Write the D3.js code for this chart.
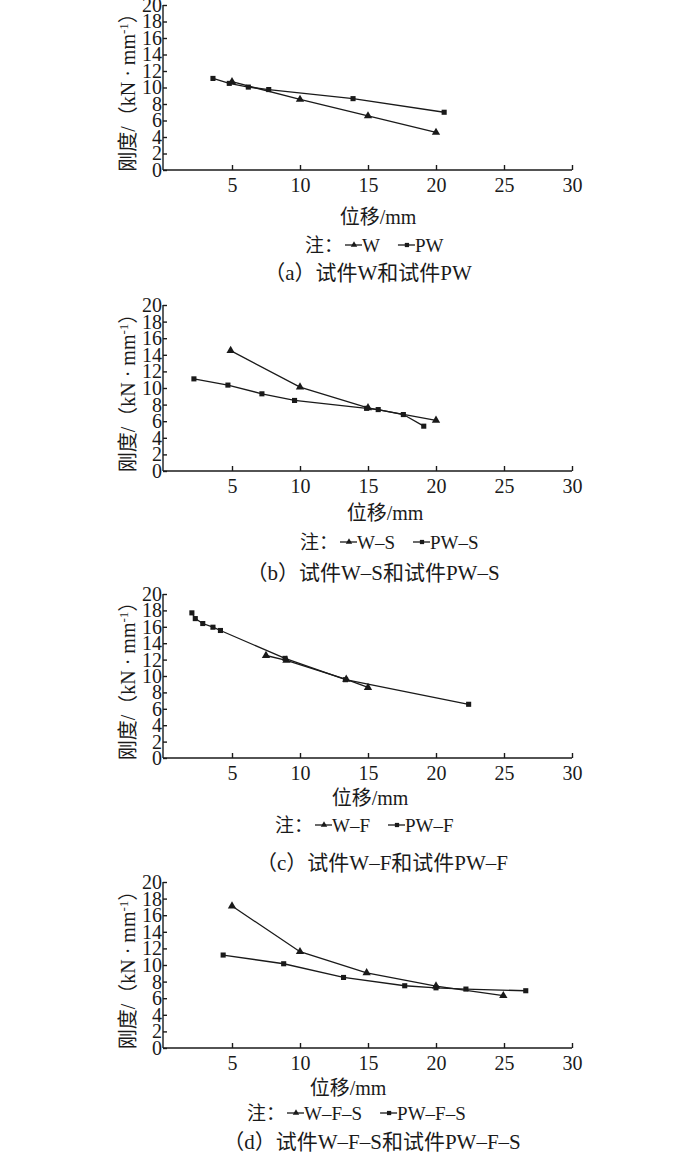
<!DOCTYPE html>
<html>
<head>
<meta charset="utf-8">
<script src="https://cdn.jsdelivr.net/npm/d3@7"></script>
<style>
  body { margin: 0; background: #fff; }
  text { fill: #1a1a1a; }
</style>
</head>
<body>
<svg id="chart" width="700" height="1153"></svg>
<script>
// displacement (mm) and stiffness (kN/mm)
let xTicks = [5, 10, 15, 20, 25, 30];
let yTicks = [0, 2, 4, 6, 8, 10, 12, 14, 16, 18, 20];

let wX = [5.0, 10.0, 15.0, 20.0];
let wY = [10.7, 8.55, 6.55, 4.55];
let pwX = [3.6, 4.8, 6.2, 7.7, 13.9, 20.6];
let pwY = [11.1, 10.5, 10.05, 9.75, 8.65, 7.0];

let wsX = [4.9, 10.0, 15.0, 20.0];
let wsY = [14.5, 10.1, 7.6, 6.1];
let pwsX = [2.2, 4.7, 7.2, 9.6, 14.9, 15.75, 17.6, 19.1];
let pwsY = [11.1, 10.35, 9.3, 8.5, 7.55, 7.4, 6.8, 5.4];

let wfX = [7.5, 9.0, 13.4, 15.0];
let wfY = [12.5, 11.9, 9.6, 8.6];
let pwfX = [2.05, 2.3, 2.85, 3.6, 4.15, 8.9, 13.35, 22.4];
let pwfY = [17.7, 17.0, 16.4, 15.95, 15.55, 12.15, 9.55, 6.55];

let wfsX = [5.0, 10.0, 14.9, 20.0, 24.95];
let wfsY = [17.1, 11.6, 9.05, 7.45, 6.3];
let pwfsX = [4.35, 8.8, 13.2, 17.7, 20.0, 22.2, 26.6];
let pwfsY = [11.2, 10.15, 8.5, 7.5, 7.25, 7.1, 6.9];

let seriesA = ["W", "PW"];
let seriesB = ["W–S", "PW–S"];
let seriesC = ["W–F", "PW–F"];
let seriesD = ["W–F–S", "PW–F–S"];
let captions = ["（a）试件W和试件PW", "（b）试件W–S和试件PW–S",
                "（c）试件W–F和试件PW–F", "（d）试件W–F–S和试件PW–F–S"];

let zip = (xs, ys) => xs.map((x, i) => ({x: x, y: ys[i]}));

let panels = [
  {names: seriesA, tri: zip(wX, wY), sq: zip(pwX, pwY), caption: captions[0],
   axisY: 170, topY: 5, labX: 378, labY: 217, legX: 305, legY: 245, capX: 368, capY: 272},
  {names: seriesB, tri: zip(wsX, wsY), sq: zip(pwsX, pwsY), caption: captions[1],
   axisY: 471, topY: 305, labX: 385, labY: 513, legX: 300, legY: 542, capX: 373, capY: 572},
  {names: seriesC, tri: zip(wfX, wfY), sq: zip(pwfX, pwfY), caption: captions[2],
   axisY: 758, topY: 594, labX: 370, labY: 798, legX: 275, legY: 825, capX: 382, capY: 862},
  {names: seriesD, tri: zip(wfsX, wfsY), sq: zip(pwfsX, pwfsY), caption: captions[3],
   axisY: 1048, topY: 882, labX: 348, labY: 1088, legX: 247, legY: 1113, capX: 372, capY: 1141}
];

let svg = d3.select("#chart");
let ink = "#1a1a1a";
let font = "'Liberation Serif', 'Noto Sans CJK SC', serif";
let left = 163, right = 572;

let triSym = d3.symbol().type(d3.symbolTriangle).size(30);
let sqSym = d3.symbol().type(d3.symbolSquare).size(26);

function drawPanel(p) {
  let g = svg.append("g");
  let x = d3.scaleLinear().domain([0, 30]).range([left + 1, right]);
  let y = d3.scaleLinear().domain([0, 20]).range([p.axisY, p.topY]);

  // axes, ticks point inward
  let ya = g.append("g")
    .attr("transform", "translate(" + left + ",0)")
    .call(d3.axisLeft(y).tickValues(yTicks).tickSize(-4).tickPadding(1).tickSizeOuter(0));
  let xa = g.append("g")
    .attr("transform", "translate(0," + p.axisY + ")")
    .call(d3.axisBottom(x).tickValues(xTicks).tickSize(-5).tickPadding(8).tickSizeOuter(0));
  [ya, xa].forEach(a => {
    a.selectAll("path, line").attr("stroke", ink).attr("stroke-width", 1.4);
    a.selectAll("text").style("font-family", font).style("font-size", "20px").attr("fill", ink);
  });
  xa.select(".domain").attr("d", "M" + left + ",0H" + right);
  ya.select(".domain").attr("d", "M0," + p.topY + "V" + p.axisY);

  // y label
  let yl = g.append("text")
    .attr("transform", "translate(135," + ((p.topY + p.axisY) / 2) + ") rotate(-90)")
    .attr("text-anchor", "middle")
    .style("font-family", font).style("font-size", "20px");
  yl.append("tspan").text("刚度/（kN · mm");
  yl.append("tspan").attr("dy", -7).style("font-size", "13px").text("-1");
  yl.append("tspan").attr("dy", 7).text("）");

  // x label
  g.append("text")
    .attr("x", p.labX).attr("y", p.labY + 7)
    .attr("text-anchor", "middle")
    .style("font-family", font).style("font-size", "20px")
    .text("位移/mm");

  // lines and markers
  let line = d3.line().x(d => x(d.x)).y(d => y(d.y));
  [[p.tri, triSym], [p.sq, sqSym]].forEach(([pts, sym]) => {
    g.append("path").datum(pts)
      .attr("d", line).attr("fill", "none")
      .attr("stroke", ink).attr("stroke-width", 1.3);
    g.selectAll(null).data(pts).enter().append("path")
      .attr("d", sym)
      .attr("transform", d => "translate(" + x(d.x) + "," + y(d.y) + ")")
      .attr("fill", ink);
  });

  // legend
  let leg = g.append("g").attr("transform", "translate(" + p.legX + "," + p.legY + ")");
  leg.append("text").attr("y", 7)
    .style("font-family", font).style("font-size", "19px").text("注：");
  let cx = 40;
  [triSym, sqSym].forEach((sym, i) => {
    leg.append("line").attr("x1", cx).attr("x2", cx + 17)
      .attr("stroke", ink).attr("stroke-width", 1.3);
    leg.append("path").attr("d", sym.size(18)()).attr("fill", ink)
      .attr("transform", "translate(" + (cx + 9) + ",0)");
    let t = leg.append("text").attr("x", cx + 17).attr("y", 7)
      .style("font-family", font).style("font-size", "19px").text(p.names[i]);
    cx += 17 + t.node().getComputedTextLength() + 18;
  });
  triSym.size(30); sqSym.size(26);

  // caption
  g.append("text")
    .attr("x", p.capX).attr("y", p.capY + 8)
    .attr("text-anchor", "middle")
    .style("font-family", font).style("font-size", "21px")
    .text(p.caption);
}

panels.forEach(drawPanel);
</script>
</body>
</html>
